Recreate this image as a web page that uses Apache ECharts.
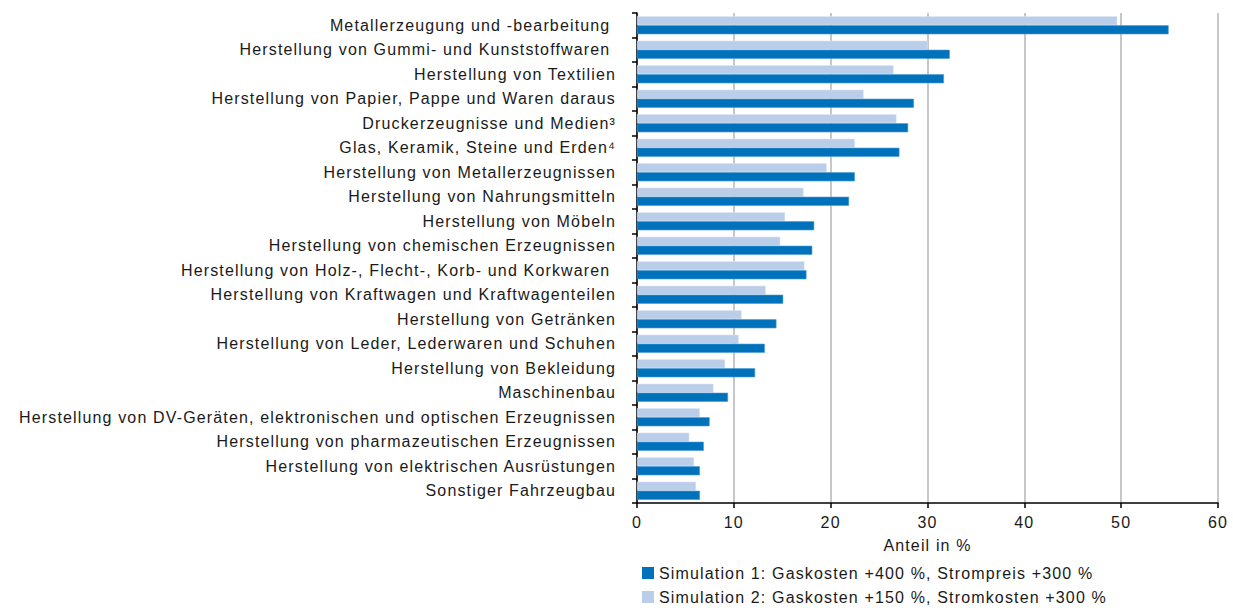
<!DOCTYPE html>
<html><head><meta charset="utf-8">
<script src="https://cdn.jsdelivr.net/npm/echarts@6/dist/echarts.min.js"></script>
<style>html,body{margin:0;padding:0;background:#fff}#c{width:1233px;height:608px}#c svg text{letter-spacing:1.15px}</style>
</head><body><div id="c"></div>
<script>
const categories = [
  "Metallerzeugung und -bearbeitung ",
  "Herstellung von Gummi- und Kunststoffwaren ",
  "Herstellung von Textilien",
  "Herstellung von Papier, Pappe und Waren daraus",
  "Druckerzeugnisse und Medien³",
  "Glas, Keramik, Steine und Erden⁴",
  "Herstellung von Metallerzeugnissen",
  "Herstellung von Nahrungsmitteln",
  "Herstellung von Möbeln",
  "Herstellung von chemischen Erzeugnissen",
  "Herstellung von Holz-, Flecht-, Korb- und Korkwaren ",
  "Herstellung von Kraftwagen und Kraftwagenteilen",
  "Herstellung von Getränken",
  "Herstellung von Leder, Lederwaren und Schuhen",
  "Herstellung von Bekleidung",
  "Maschinenbau",
  "Herstellung von DV-Geräten, elektronischen und optischen Erzeugnissen",
  "Herstellung von pharmazeutischen Erzeugnissen",
  "Herstellung von elektrischen Ausrüstungen",
  "Sonstiger Fahrzeugbau"
];
const sim1 = [54.9, 32.3, 31.7, 28.6, 28.0, 27.1, 22.5, 21.9, 18.3, 18.1, 17.5, 15.1, 14.4, 13.2, 12.2, 9.4, 7.5, 6.9, 6.5, 6.5];
const sim2 = [49.6, 30.0, 26.5, 23.4, 26.8, 22.5, 19.6, 17.2, 15.3, 14.8, 17.3, 13.3, 10.8, 10.5, 9.1, 7.9, 6.5, 5.4, 5.9, 6.1];
const sim1Name = "Simulation 1: Gaskosten +400 %, Strompreis +300 %";
const sim2Name = "Simulation 2: Gaskosten +150 %, Stromkosten +300 %";
const xTicks = [0, 10, 20, 30, 40, 50, 60];

const font = "'Liberation Sans', Arial, Helvetica, sans-serif";
const fs = 16;
const txt = '#1a1a1a';
const chart = echarts.init(document.getElementById('c'), null, { renderer: 'svg' });
const legendBase = {
  orient: 'vertical', left: 637, itemWidth: 12, itemHeight: 12, icon: 'rect',
  itemStyle: { borderWidth: 0 },
  textStyle: { fontFamily: font, fontSize: fs, color: txt }
};
chart.setOption({
  animation: false,
  textStyle: { fontFamily: font },
  grid: { left: 637, right: 15, top: 13, bottom: 105, containLabel: false },
  legend: [
    Object.assign({}, legendBase, { top: 560, data: [sim1Name] }),
    Object.assign({}, legendBase, { top: 584, data: [sim2Name] })
  ],
  xAxis: {
    type: 'value', min: xTicks[0], max: xTicks[xTicks.length - 1], interval: 10,
    name: 'Anteil in %', nameLocation: 'middle', nameGap: 34,
    nameTextStyle: { fontFamily: font, fontSize: fs, color: txt },
    axisLine: { show: true, lineStyle: { color: '#000', width: 1.5 } },
    axisTick: { show: true, length: 5, lineStyle: { color: '#000', width: 1.5 } },
    axisLabel: { fontFamily: font, fontSize: fs, color: txt, margin: 11 },
    splitLine: { show: true, lineStyle: { color: '#b5b5b5', width: 1.5 } }
  },
  yAxis: {
    type: 'category', data: categories, inverse: true,
    axisLine: { show: true, lineStyle: { color: '#000', width: 1.5 } },
    axisTick: { show: true, length: 5, lineStyle: { color: '#000', width: 1.5 } },
    axisLabel: { fontFamily: font, fontSize: fs, color: txt, margin: 21, interval: 0 },
    splitLine: { show: false }
  },
  series: [
    { name: sim2Name, type: 'bar', data: sim2, barGap: '0%', barCategoryGap: '26%',
      itemStyle: { color: '#bacde9', borderColor: '#dce6f4', borderWidth: 0.6 } },
    { name: sim1Name, type: 'bar', data: sim1, barGap: '0%', barCategoryGap: '26%',
      itemStyle: { color: '#0072bc', borderColor: '#4a9ad6', borderWidth: 0.6 } }
  ]
});
</script></body></html>
